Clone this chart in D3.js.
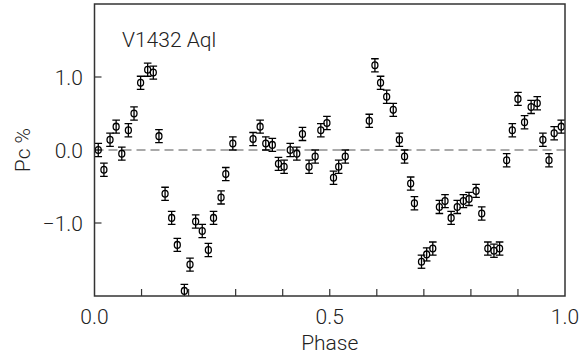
<!DOCTYPE html>
<html>
<head>
<meta charset="utf-8">
<script src="https://cdn.jsdelivr.net/npm/d3@7"></script>
<style>
  body { margin: 0; background: #fff; }
  text { font-family: "Roboto", "Liberation Sans", sans-serif; font-weight: 300; fill: #222; }
</style>
</head>
<body>
<svg id="chart" width="579" height="358"></svg>
<script>
// phase values
var phase = [0.008, 0.020, 0.033, 0.046, 0.058, 0.072, 0.084, 0.098, 0.113, 0.125,
  0.137, 0.150, 0.164, 0.176, 0.191, 0.203, 0.215, 0.229, 0.242, 0.253,
  0.269, 0.279, 0.294, 0.337, 0.352, 0.364, 0.378, 0.391, 0.403, 0.416,
  0.430, 0.442, 0.456, 0.469, 0.481, 0.494, 0.508, 0.519, 0.533, 0.584,
  0.596, 0.608, 0.621, 0.635, 0.648, 0.659, 0.672, 0.680, 0.695, 0.706,
  0.719, 0.733, 0.745, 0.758, 0.771, 0.784, 0.796, 0.811, 0.823, 0.836,
  0.849, 0.861, 0.876, 0.888, 0.900, 0.914, 0.928, 0.941, 0.953, 0.966,
  0.977, 0.992];
// circular polarisation Pc %
var pc = [0.00, -0.27, 0.14, 0.32, -0.05, 0.27, 0.50, 0.92, 1.10, 1.06,
  0.19, -0.60, -0.93, -1.30, -1.93, -1.57, -0.98, -1.11, -1.37, -0.93,
  -0.65, -0.33, 0.09, 0.15, 0.32, 0.09, 0.07, -0.19, -0.23, 0.00,
  -0.05, 0.22, -0.23, -0.09, 0.27, 0.37, -0.38, -0.23, -0.09, 0.40,
  1.16, 0.92, 0.73, 0.55, 0.14, -0.09, -0.46, -0.73, -1.53, -1.43,
  -1.35, -0.78, -0.70, -0.93, -0.78, -0.70, -0.67, -0.56, -0.87, -1.35,
  -1.38, -1.35, -0.14, 0.27, 0.70, 0.38, 0.59, 0.64, 0.14, -0.14,
  0.23, 0.32];
var pcErr = 0.09;
var xTicks = [0, 0.5, 1];
var xMinorTicks = [0.1, 0.2, 0.3, 0.4, 0.5, 0.6, 0.7, 0.8, 0.9];
var yTicks = [-1, 0, 1];
var title = "V1432 Aql";

var svg = d3.select("#chart");
var plotL = 94.5, plotR = 565, plotT = 4, plotB = 296;

var x = d3.scaleLinear().domain([0, 1]).range([plotL, plotR]);
var y = d3.scaleLinear().domain([-2, 2]).range([plotB, plotT]);

svg.append("defs").append("clipPath").attr("id", "clip")
  .append("rect")
  .attr("x", plotL).attr("y", plotT)
  .attr("width", plotR - plotL).attr("height", plotB - plotT);

// zero line
svg.append("line")
  .attr("x1", plotL).attr("x2", plotR)
  .attr("y1", y(0)).attr("y2", y(0))
  .attr("stroke", "#555").attr("stroke-width", 1.2)
  .attr("stroke-dasharray", "9,5");

// ticks inside the frame
svg.append("g").selectAll("line").data(xMinorTicks).enter().append("line")
  .attr("x1", d => x(d)).attr("x2", d => x(d))
  .attr("y1", plotB).attr("y2", plotB - 7)
  .attr("stroke", "#333").attr("stroke-width", 1.2);
svg.append("g").selectAll("line").data(yTicks).enter().append("line")
  .attr("x1", plotL).attr("x2", plotL + 7)
  .attr("y1", d => y(d)).attr("y2", d => y(d))
  .attr("stroke", "#333").attr("stroke-width", 1.2);

// data
var pts = svg.append("g").attr("clip-path", "url(#clip)")
  .selectAll("g").data(phase).enter().append("g")
  .attr("stroke", "#000").attr("fill", "none").attr("stroke-width", 1.3);

pts.append("line")
  .attr("x1", d => x(d)).attr("x2", d => x(d))
  .attr("y1", (d, i) => y(pc[i] + pcErr)).attr("y2", (d, i) => y(pc[i] - pcErr));
pts.append("line")
  .attr("x1", d => x(d) - 3.8).attr("x2", d => x(d) + 3.8)
  .attr("y1", (d, i) => y(pc[i] + pcErr)).attr("y2", (d, i) => y(pc[i] + pcErr));
pts.append("line")
  .attr("x1", d => x(d) - 3.8).attr("x2", d => x(d) + 3.8)
  .attr("y1", (d, i) => y(pc[i] - pcErr)).attr("y2", (d, i) => y(pc[i] - pcErr));
pts.append("ellipse")
  .attr("cx", d => x(d)).attr("cy", (d, i) => y(pc[i]))
  .attr("rx", 3).attr("ry", 3.4);

// frame
svg.append("rect")
  .attr("x", plotL).attr("y", plotT)
  .attr("width", plotR - plotL).attr("height", plotB - plotT)
  .attr("fill", "none").attr("stroke", "#333").attr("stroke-width", 1.5);

// tick labels
svg.append("g").selectAll("text").data(xTicks).enter().append("text")
  .attr("x", d => x(d)).attr("y", 324)
  .attr("text-anchor", "middle").attr("font-size", 21)
  .text(d => d3.format(".1f")(d));
svg.append("g").selectAll("text").data(yTicks).enter().append("text")
  .attr("x", 83).attr("y", d => y(d) + 7.5)
  .attr("text-anchor", "end").attr("font-size", 21)
  .text(d => d3.format(".1f")(d).replace("-", "\u2212"));

// axis titles
svg.append("text")
  .attr("x", x(0.5)).attr("y", 350)
  .attr("text-anchor", "middle").attr("font-size", 21)
  .text("Phase");
svg.append("text")
  .attr("transform", "translate(30," + y(0) + ") rotate(-90)")
  .attr("text-anchor", "middle").attr("font-size", 21)
  .text("Pc %");

svg.append("text")
  .attr("x", 122).attr("y", 47)
  .attr("font-size", 21)
  .text(title);
</script>
</body>
</html>
